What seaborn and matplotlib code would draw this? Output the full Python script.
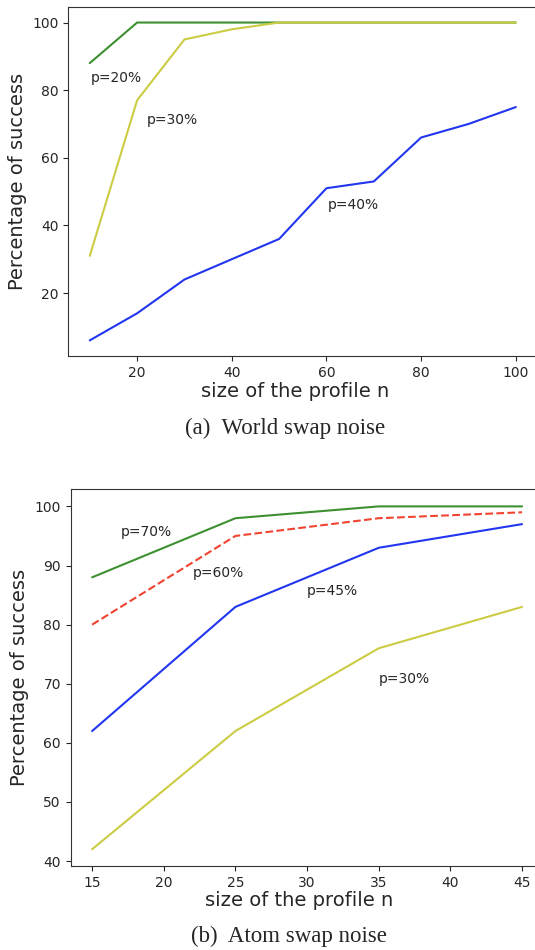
import matplotlib
matplotlib.use("Agg")
import matplotlib.pyplot as plt
import pandas as pd
import seaborn as sns

# (a) World swap noise
world_n = [10, 20, 30, 40, 50, 60, 70, 80, 90, 100]
world_p20 = [88, 100, 100, 100, 100, 100, 100, 100, 100, 100]
world_p30 = [31, 77, 95, 98, 100, 100, 100, 100, 100, 100]
world_p40 = [6, 14, 24, 30, 36, 51, 53, 66, 70, 75]

# (b) Atom swap noise
atom_n = [15, 25, 35, 45]
atom_p70 = [88, 98, 100, 100]
atom_p60 = [80, 95, 98, 99]
atom_p45 = [62, 83, 93, 97]
atom_p30 = [42, 62, 76, 83]

GREEN = "#3d9130"
YELLOW = "#cccc44"
BLUE = "#2236f0"
RED = "#f04430"

sns.set_style("ticks")
plt.rcParams["font.family"] = ["DejaVu Sans"]

fig = plt.figure(figsize=(5.35, 9.5), dpi=100)
# both panels run slightly past the right edge of the figure, as in the reference crop
ax1 = fig.add_axes([0.128, 0.625, 0.876, 0.368])
ax2 = fig.add_axes([0.132, 0.088, 0.884, 0.397])

df_a = pd.DataFrame({"n": world_n, "p=20%": world_p20, "p=30%": world_p30, "p=40%": world_p40})
sns.lineplot(data=df_a, x="n", y="p=40%", color=BLUE, lw=1.5, ax=ax1)
sns.lineplot(data=df_a, x="n", y="p=20%", color=GREEN, lw=1.5, ax=ax1)
sns.lineplot(data=df_a, x="n", y="p=30%", color=YELLOW, lw=1.5, ax=ax1)
ax1.text(10.2, 83.5, "p=20%", fontsize=10, va="center")
ax1.text(22.1, 71.3, "p=30%", fontsize=10, va="center")
ax1.text(60.2, 46.1, "p=40%", fontsize=10, va="center")
ax1.set_xticks([20, 40, 60, 80, 100])
ax1.set_yticks([20, 40, 60, 80, 100])
ax1.set_xlabel("size of the profile n", fontsize=14)
ax1.set_ylabel("Percentage of success", fontsize=14)

df_b = pd.DataFrame({"n": atom_n, "p=70%": atom_p70, "p=60%": atom_p60,
                     "p=45%": atom_p45, "p=30%": atom_p30})
sns.lineplot(data=df_b, x="n", y="p=30%", color=YELLOW, lw=1.5, ax=ax2)
sns.lineplot(data=df_b, x="n", y="p=45%", color=BLUE, lw=1.5, ax=ax2)
sns.lineplot(data=df_b, x="n", y="p=60%", color=RED, lw=1.5, ls="--", ax=ax2)
sns.lineplot(data=df_b, x="n", y="p=70%", color=GREEN, lw=1.5, ax=ax2)
ax2.text(17.0, 95.7, "p=70%", fontsize=10, va="center")
ax2.text(22.0, 88.8, "p=60%", fontsize=10, va="center")
ax2.text(30.0, 85.7, "p=45%", fontsize=10, va="center")
ax2.text(35.0, 70.8, "p=30%", fontsize=10, va="center")
ax2.set_xticks([15, 20, 25, 30, 35, 40, 45])
ax2.set_yticks([40, 50, 60, 70, 80, 90, 100])
ax2.set_xlabel("size of the profile n", fontsize=14)
ax2.set_ylabel("Percentage of success", fontsize=14)

for ax in (ax1, ax2):
    ax.tick_params(labelsize=10, length=3.5, width=0.8)
    ax.xaxis.set_label_coords(0.484, -0.075 if ax is ax1 else -0.065)
    for s in ax.spines.values():
        s.set_linewidth(0.8)
        s.set_color("#333333")

fig.text(0.533, 0.549, "(a)  World swap noise", fontsize=16.5, ha="center", va="center",
         family=["Liberation Serif", "DejaVu Serif"])
fig.text(0.540, 0.014, "(b)  Atom swap noise", fontsize=16.5, ha="center", va="center",
         family=["Liberation Serif", "DejaVu Serif"])

fig.savefig("out.png", dpi=100)
